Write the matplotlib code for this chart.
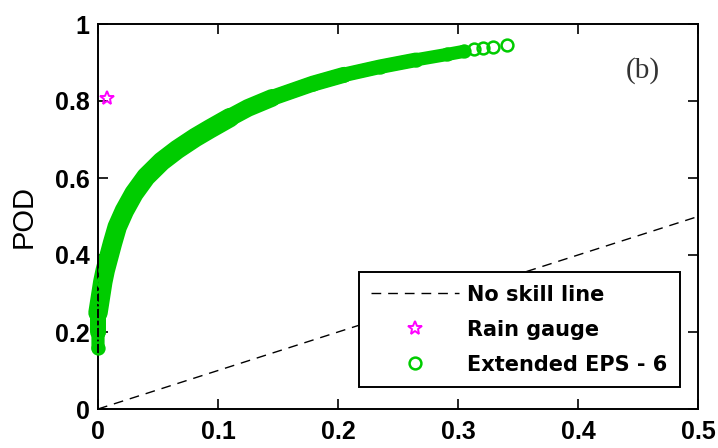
import matplotlib
matplotlib.use("Agg")
import matplotlib.pyplot as plt
import numpy as np

# ROC points (FAR, POD)
eps_far = [0.000, 0.000, 0.000, 0.002, 0.004, 0.006, 0.009, 0.012, 0.016, 0.022,
           0.030, 0.040, 0.053, 0.066, 0.081, 0.093, 0.110, 0.125, 0.145, 0.179,
           0.205, 0.235, 0.265, 0.291, 0.305, 0.313, 0.321, 0.329, 0.341]
eps_pod = [0.158, 0.200, 0.250, 0.290, 0.330, 0.360, 0.395, 0.430, 0.473, 0.515,
           0.560, 0.603, 0.643, 0.674, 0.705, 0.727, 0.757, 0.782, 0.808, 0.845,
           0.868, 0.889, 0.907, 0.921, 0.929, 0.934, 0.937, 0.941, 0.946]
gauge_far = [0.0075]
gauge_pod = [0.808]
noskill = [0.0, 0.5]

x_ticks = [0, 0.1, 0.2, 0.3, 0.4, 0.5]
x_labels = ["0", "0.1", "0.2", "0.3", "0.4", "0.5"]
y_ticks = [0, 0.2, 0.4, 0.6, 0.8, 1.0]
y_labels = ["0", "0.2", "0.4", "0.6", "0.8", "1"]

GREEN = "#00cc00"
MAGENTA = "#ff00ff"

fig = plt.figure(figsize=(7.18, 4.48), dpi=100)
ax = fig.add_axes([98 / 718, 39 / 448, 600 / 718, 385 / 448])

ax.plot(noskill, noskill, color="black", lw=1.0, dashes=(7, 5), label="No skill line")
ax.plot(gauge_far, gauge_pod, linestyle="none", marker="*", markersize=10,
        markerfacecolor="none", markeredgecolor=MAGENTA, markeredgewidth=1.4,
        clip_on=False, label="Rain gauge")

far = np.array(eps_far)
pod = np.array(eps_pod)
# dense part of the ensemble: overlapping circles form a solid band,
# wider in the middle and narrowing towards the tail
band_parts = [(far < 0.31, 9.5),
              ((far <= 0.27) & (pod >= 0.2), 10.5),
              ((far <= 0.21) & (pod >= 0.2), 11.5),
              ((far <= 0.15) & (pod >= 0.25), 12.8),
              ((far <= 0.11) & (pod >= 0.25), 14)]
for mask, width in band_parts:
    ax.plot(far[mask], pod[mask], color=GREEN, lw=width, solid_capstyle="round",
            solid_joinstyle="round", clip_on=False, zorder=2)
ax.plot(far, pod, linestyle="none", marker="o", markersize=8.5,
        markerfacecolor="none", markeredgecolor=GREEN, markeredgewidth=1.8,
        clip_on=False, zorder=3, label="Extended EPS - 6")

ax.set_xlim(0, 0.5)
ax.set_ylim(0, 1)
ax.set_xticks(x_ticks)
ax.set_xticklabels(x_labels)
ax.set_yticks(y_ticks)
ax.set_yticklabels(y_labels)
ax.tick_params(direction="in", length=7, width=1.2, top=True, right=True)
ax.tick_params(axis="x", pad=8)
ax.tick_params(axis="y", pad=6)
for lab in ax.get_xticklabels() + ax.get_yticklabels():
    lab.set_fontfamily("Liberation Sans")
    lab.set_fontweight("bold")
    lab.set_fontsize(18)
for sp in ax.spines.values():
    sp.set_linewidth(1.4)

ax.set_ylabel("POD", fontsize=21, fontfamily="Liberation Sans")
ax.yaxis.set_label_coords(-0.10, 0.5)

ax.text(0.908, 0.878, "(b)", transform=ax.transAxes, fontsize=21,
        fontfamily="Liberation Serif", color="#333333", ha="center", va="center")

leg = ax.legend(loc="lower right", bbox_to_anchor=(0.97, 0.057), frameon=True,
                fancybox=False, edgecolor="black", framealpha=1,
                prop={"family": "DejaVu Sans", "weight": "bold", "size": 15},
                handlelength=4.2, handletextpad=0.4, labelspacing=0.72,
                borderpad=0.6, borderaxespad=0)
leg.get_frame().set_linewidth(1.4)

fig.savefig("out.png", dpi=100)
